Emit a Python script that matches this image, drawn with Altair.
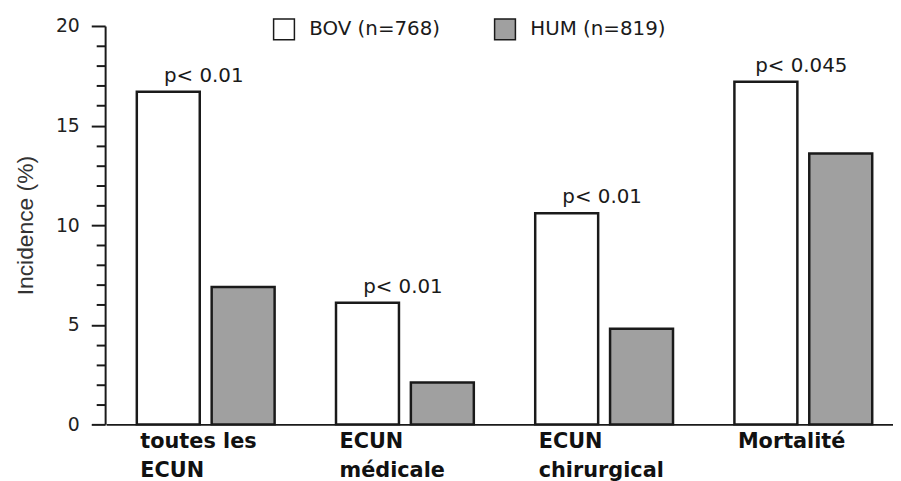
import altair as alt
import pandas as pd

categories = ["toutes les|ECUN", "ECUN|médicale", "ECUN|chirurgical", "Mortalité"]
groups = ["BOV (n=768)", "HUM (n=819)"]
bov = [16.7, 6.1, 10.6, 17.2]
hum = [6.9, 2.1, 4.8, 13.6]
pvalues = ["p< 0.01", "p< 0.01", "p< 0.01", "p< 0.045"]
y_ticks = list(range(0, 21))

rows = []
for c, b, h in zip(categories, bov, hum):
    rows.append({"cat": c, "grp": groups[0], "val": b})
    rows.append({"cat": c, "grp": groups[1], "val": h})
df = pd.DataFrame(rows)
pdf = pd.DataFrame({"cat": categories, "val": bov, "p": pvalues})

xscale = alt.Scale(domain=categories, range=[1, 805], paddingInner=0, paddingOuter=0)
yscale = alt.Scale(domain=[0, 20], nice=False)

xaxis = alt.Axis(
    title=None, ticks=False, labelExpr="split(datum.label, '|')", labelAngle=0,
    labelAlign="left", labelOffset=-66, labelBaseline="top", labelPadding=6,
    labelFont="DejaVu Sans", labelFontWeight="bold", labelFontSize=21,
    labelColor="#111111", labelLineHeight=30, labelOverlap=False, labelLimit=300,
    domainColor="#1a1a1a", domainWidth=2)
yaxis = alt.Axis(
    title="Incidence (%)", values=y_ticks, grid=False,
    labelExpr="datum.value % 5 === 0 ? datum.label : ''",
    tickSize={"condition": {"test": "datum.value % 5 === 0", "value": 14}, "value": 9},
    tickColor="#1a1a1a", tickWidth=2, domainColor="#1a1a1a", domainWidth=2,
    labelFont="DejaVu Sans", labelFontSize=19, labelColor="#222222", labelPadding=12,
    titleFont="Liberation Sans", titleFontSize=23, titleFontWeight="normal",
    titleColor="#333333", titleX=-80, titleY=201, titleAngle=270,
    titleAlign="center", titleBaseline="middle")

bars = alt.Chart(df).mark_bar(stroke="#1a1a1a", strokeWidth=2.5).encode(
    x=alt.X("cat:N", scale=xscale, sort=categories, axis=xaxis),
    xOffset=alt.XOffset("grp:N", sort=groups,
                        scale=alt.Scale(domain=groups, paddingInner=0.159, paddingOuter=0.41)),
    y=alt.Y("val:Q", scale=yscale, axis=yaxis),
    fill=alt.Fill("grp:N", sort=groups,
                  scale=alt.Scale(domain=groups, range=["#ffffff", "#a0a0a0"]),
                  legend=alt.Legend(title=None, orient="none", legendX=169, legendY=-8,
                                    direction="horizontal", symbolType="square",
                                    symbolSize=441, symbolStrokeColor="#1a1a1a",
                                    symbolStrokeWidth=1.5, labelFont="DejaVu Sans",
                                    labelFontSize=20, labelColor="#1a1a1a",
                                    labelOffset=14, columnPadding=51)),
)

ptext = alt.Chart(pdf).mark_text(font="DejaVu Sans", fontSize=20, dy=-10, dx=-2,
                                 baseline="alphabetic", color="#1a1a1a").encode(
    x=alt.X("cat:N", scale=xscale, sort=categories, axis=xaxis),
    y=alt.Y("val:Q", scale=yscale, axis=yaxis),
    text="p:N",
)

chart = alt.layer(bars, ptext).properties(
    width=795, height=402,
    autosize=alt.AutoSizeParams(type="none"),
    padding={"left": 98, "top": 16, "right": 0, "bottom": 55},
).configure_view(stroke=None)

chart.save("out.html", embed_options={"renderer": "svg", "actions": False})
